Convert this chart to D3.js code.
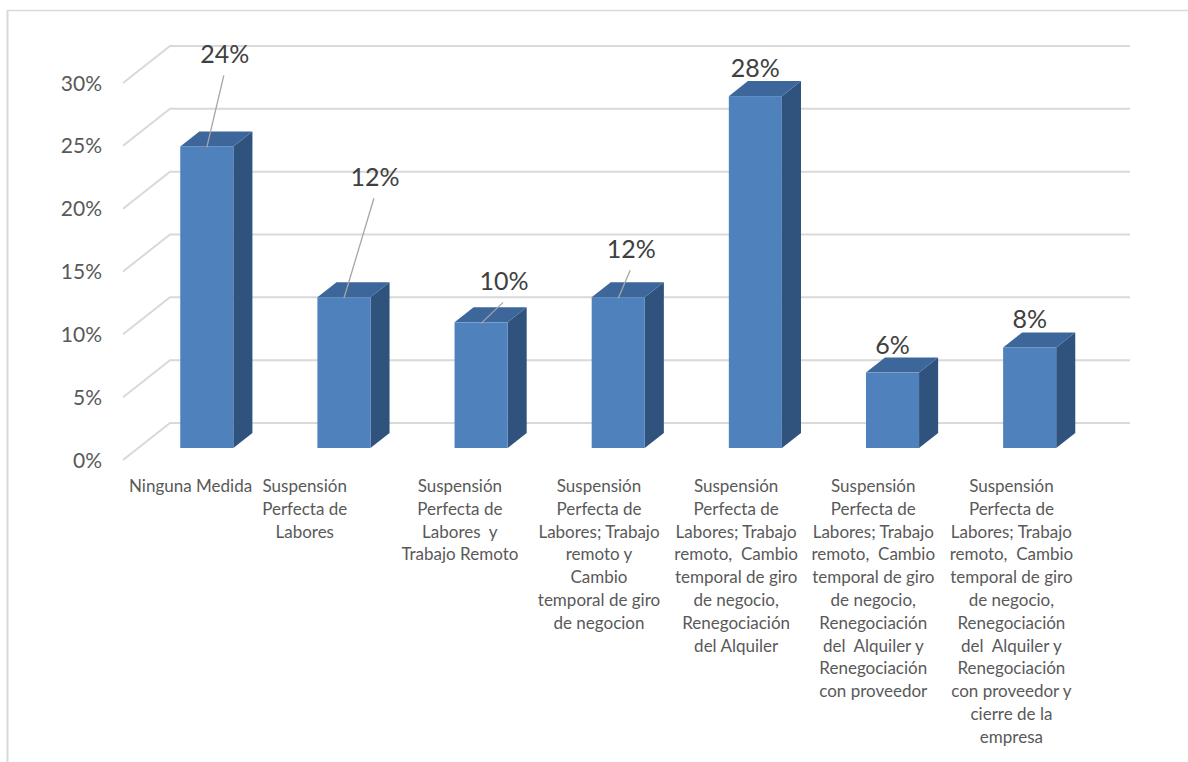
<!DOCTYPE html>
<html>
<head>
<meta charset="utf-8">
<script src="https://cdn.jsdelivr.net/npm/d3@7"></script>
<style>
  body { margin: 0; background: #fff; }
  svg { display: block; }
  text { font-family: Lato, "Open Sans", sans-serif; }
</style>
</head>
<body>
<svg id="chart" width="1188" height="762"></svg>
<script>
// Category labels, already split into the lines they are printed on
const categoryLines = [
  ["Ninguna Medida"],
  ["Suspensión", "Perfecta de", "Labores"],
  ["Suspensión", "Perfecta de", "Labores  y", "Trabajo Remoto"],
  ["Suspensión", "Perfecta de", "Labores; Trabajo", "remoto y", "Cambio", "temporal de giro", "de negocion"],
  ["Suspensión", "Perfecta de", "Labores; Trabajo", "remoto,  Cambio", "temporal de giro", "de negocio,", "Renegociación", "del Alquiler"],
  ["Suspensión", "Perfecta de", "Labores; Trabajo", "remoto,  Cambio", "temporal de giro", "de negocio,", "Renegociación", "del  Alquiler y", "Renegociación", "con proveedor"],
  ["Suspensión", "Perfecta de", "Labores; Trabajo", "remoto,  Cambio", "temporal de giro", "de negocio,", "Renegociación", "del  Alquiler y", "Renegociación", "con proveedor y", "cierre de la", "empresa"]
];
// Share of companies for each measure
const values = [0.24, 0.12, 0.10, 0.12, 0.28, 0.06, 0.08];
// Value axis ticks
const yTicks = [0, 0.05, 0.10, 0.15, 0.20, 0.25, 0.30];

const svg = d3.select("#chart");
const W = 1188, H = 762;

// Oblique projection: floor front edge, depth vector to the back wall
const floorLeft = 123, floorRight = 1083, floorY = 460;
const depthDX = 47, depthDY = -37;
const barFront = 0.324, barBack = 0.73;

const x = d3.scaleBand()
  .domain(d3.range(values.length))
  .range([floorLeft, floorRight])
  .paddingInner(0.613)
  .paddingOuter(0.3065);

const y = d3.scaleLinear().domain([0, 0.30]).range([0, 377]);

// Project (x on floor front, value, depth 0..1) to screen
const P = (px, v, d) => [px + depthDX * d, floorY + depthDY * d - y(v)];
const poly = pts => pts.map(p => p.join(",")).join(" ");

// Chart frame (top and left edges visible)
svg.append("line").attr("x1", 7).attr("x2", W).attr("y1", 10.5).attr("y2", 10.5)
  .attr("stroke", "#d9d9d9").attr("stroke-width", 1.5);
svg.append("line").attr("x1", 7.5).attr("x2", 7.5).attr("y1", 10).attr("y2", H)
  .attr("stroke", "#d9d9d9").attr("stroke-width", 2);

// Gridlines on the side and back walls
svg.append("g").selectAll("polyline").data(yTicks).join("polyline")
  .attr("points", t => poly([P(floorLeft, t, 0), P(floorLeft, t, 1), P(floorRight, t, 1)]))
  .attr("fill", "none")
  .attr("stroke", "#d9d9d9")
  .attr("stroke-width", 2);

// Value axis labels
const fmt = d3.format(".0%");
svg.append("g").selectAll("text").data(yTicks).join("text")
  .attr("x", 102)
  .attr("y", d => P(floorLeft, d, 0)[1] + 7.5)
  .attr("text-anchor", "end")
  .attr("font-size", 21)
  .attr("fill", "#595959")
  .text(d => fmt(d));

// 3D bars
const bw = x.bandwidth();
const bars = svg.append("g");
values.forEach((v, i) => {
  const xl = x(i), xr = x(i) + bw;
  const g = bars.append("g");
  // right side face
  g.append("polygon")
    .attr("points", poly([P(xr, 0, barFront), P(xr, v, barFront), P(xr, v, barBack), P(xr, 0, barBack)]))
    .attr("fill", "#30537e");
  // top face
  g.append("polygon")
    .attr("points", poly([P(xl, v, barFront), P(xr, v, barFront), P(xr, v, barBack), P(xl, v, barBack)]))
    .attr("fill", "#3d669b");
  // front face
  const [fx0, fy0] = P(xl, v, barFront);
  const [fx1, fy1] = P(xr, 0, barFront);
  g.append("rect")
    .attr("x", fx0).attr("y", fy0)
    .attr("width", fx1 - fx0).attr("height", fy1 - fy0)
    .attr("fill", "#4f81bd");
});

// Data labels; some are pulled away from their bars with a leader line
const labelShift = [[18, -64], [31, -92], [23, -13], [13, -20], [0, 0], [0, 0], [0, 0]];
const labels = svg.append("g");
values.forEach((v, i) => {
  const [tx, ty] = P(x(i) + bw / 2, v, barFront);
  const [sx, sy] = labelShift[i];
  const cx = tx + sx, cy = ty - 28 + sy;
  if (sx !== 0 || sy !== 0) {
    labels.append("line")
      .attr("x1", cx - 1).attr("y1", cy + 21)
      .attr("x2", tx).attr("y2", ty + 1)
      .attr("stroke", "#a6a6a6").attr("stroke-width", 1.3);
  }
  labels.append("text")
    .attr("x", cx).attr("y", cy + 9)
    .attr("text-anchor", "middle")
    .attr("font-size", 25)
    .attr("fill", "#404040")
    .text(fmt(v));
});

// Category labels under the floor, centred on each band of the front edge
const labelNudge = [-1, -24, -6, -4, -4, -4, -3];
const cats = svg.append("g");
categoryLines.forEach((lines, i) => {
  const t = cats.append("text")
    .attr("text-anchor", "middle")
    .attr("font-size", 17)
    .attr("fill", "#595959")
    .attr("xml:space", "preserve")
    .style("white-space", "pre");
  lines.forEach((ln, k) => {
    t.append("tspan")
      .attr("x", x(i) + bw / 2 + labelNudge[i])
      .attr("y", 492 + k * 22.8)
      .text(ln);
  });
});
</script>
</body>
</html>
